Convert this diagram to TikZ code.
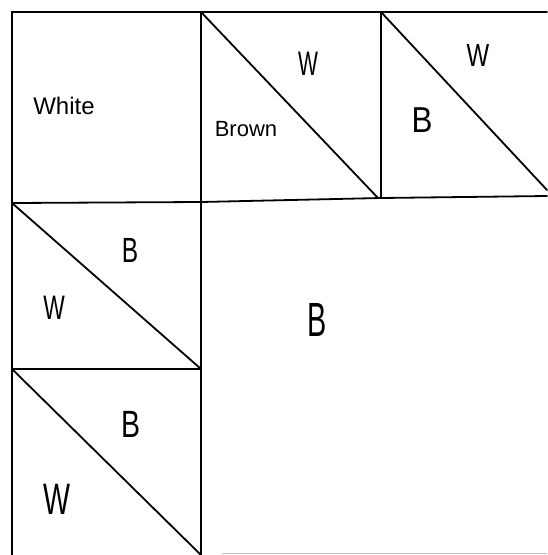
\documentclass[tikz,border=0pt]{standalone}
\usepackage{graphicx}
\usepackage{fontspec}
\setmainfont{Liberation Sans}
\newcommand\hwtext[3]{\fontsize{#1}{#1}\selectfont\scalebox{#2}[1]{#3}}
\begin{document}
\begin{tikzpicture}[x=1pt,y=-1pt,
  seam/.style={line width=1.8pt,line cap=round},
  lbl/.style={inner sep=0pt}]
\useasboundingbox[fill=white] (0,0) rectangle (547,555);
% corners
\coordinate (TL) at (12,12);
\coordinate (T1) at (201,12);
\coordinate (T2) at (381,12);
\coordinate (TR) at (547,12);
\coordinate (M0) at (12,203);
\coordinate (M1) at (201,202);
\coordinate (M2a) at (378,198);
\coordinate (M2) at (381,198);
\coordinate (MR) at (547,196);
\coordinate (L0) at (12,369);
\coordinate (L1) at (201,369);
\coordinate (B0) at (12,555);
\coordinate (B1) at (201,555);
\coordinate (R2) at (547,190);
\coordinate (G0) at (222,553);
\coordinate (G1) at (547,553);
% grid lines
\draw[seam] (TR) -- (TL) -- (B0);
\draw[seam] (T1) -- (B1);
\draw[seam] (T2) -- (M2);
\draw[seam] (M0) -- (M1) -- (M2) -- (MR);
\draw[seam] (L0) -- (L1);
\draw[line width=1pt,black!25] (G0) -- (G1);
% diagonals
\draw[seam] (T1) -- (M2a);
\draw[seam] (T2) -- (R2);
\draw[seam] (M0) -- (L1);
\draw[seam] (L0) -- (B1);
% labels
\node[lbl] (white) at (64,106) {\hwtext{24}{1}{White}};
\node[lbl] (brown) at (246,129) {\hwtext{22}{1}{Brown}};
\node[lbl] (w1) at (308,64) {\hwtext{34}{0.62}{W}};
\node[lbl] (w2) at (478,55) {\hwtext{32}{0.75}{W}};
\node[lbl] (b1) at (422,120) {\hwtext{36}{0.87}{B}};
\node[lbl] (b2) at (130,250) {\hwtext{35}{0.7}{B}};
\node[lbl] (w3) at (54,308) {\hwtext{34}{0.67}{W}};
\node[lbl] (b3) at (131,424) {\hwtext{38}{0.75}{B}};
\node[lbl] (w4) at (57,499) {\hwtext{44}{0.65}{W}};
\node[lbl] (b4) at (317,320) {\hwtext{48}{0.6}{B}};
\end{tikzpicture}
\end{document}
